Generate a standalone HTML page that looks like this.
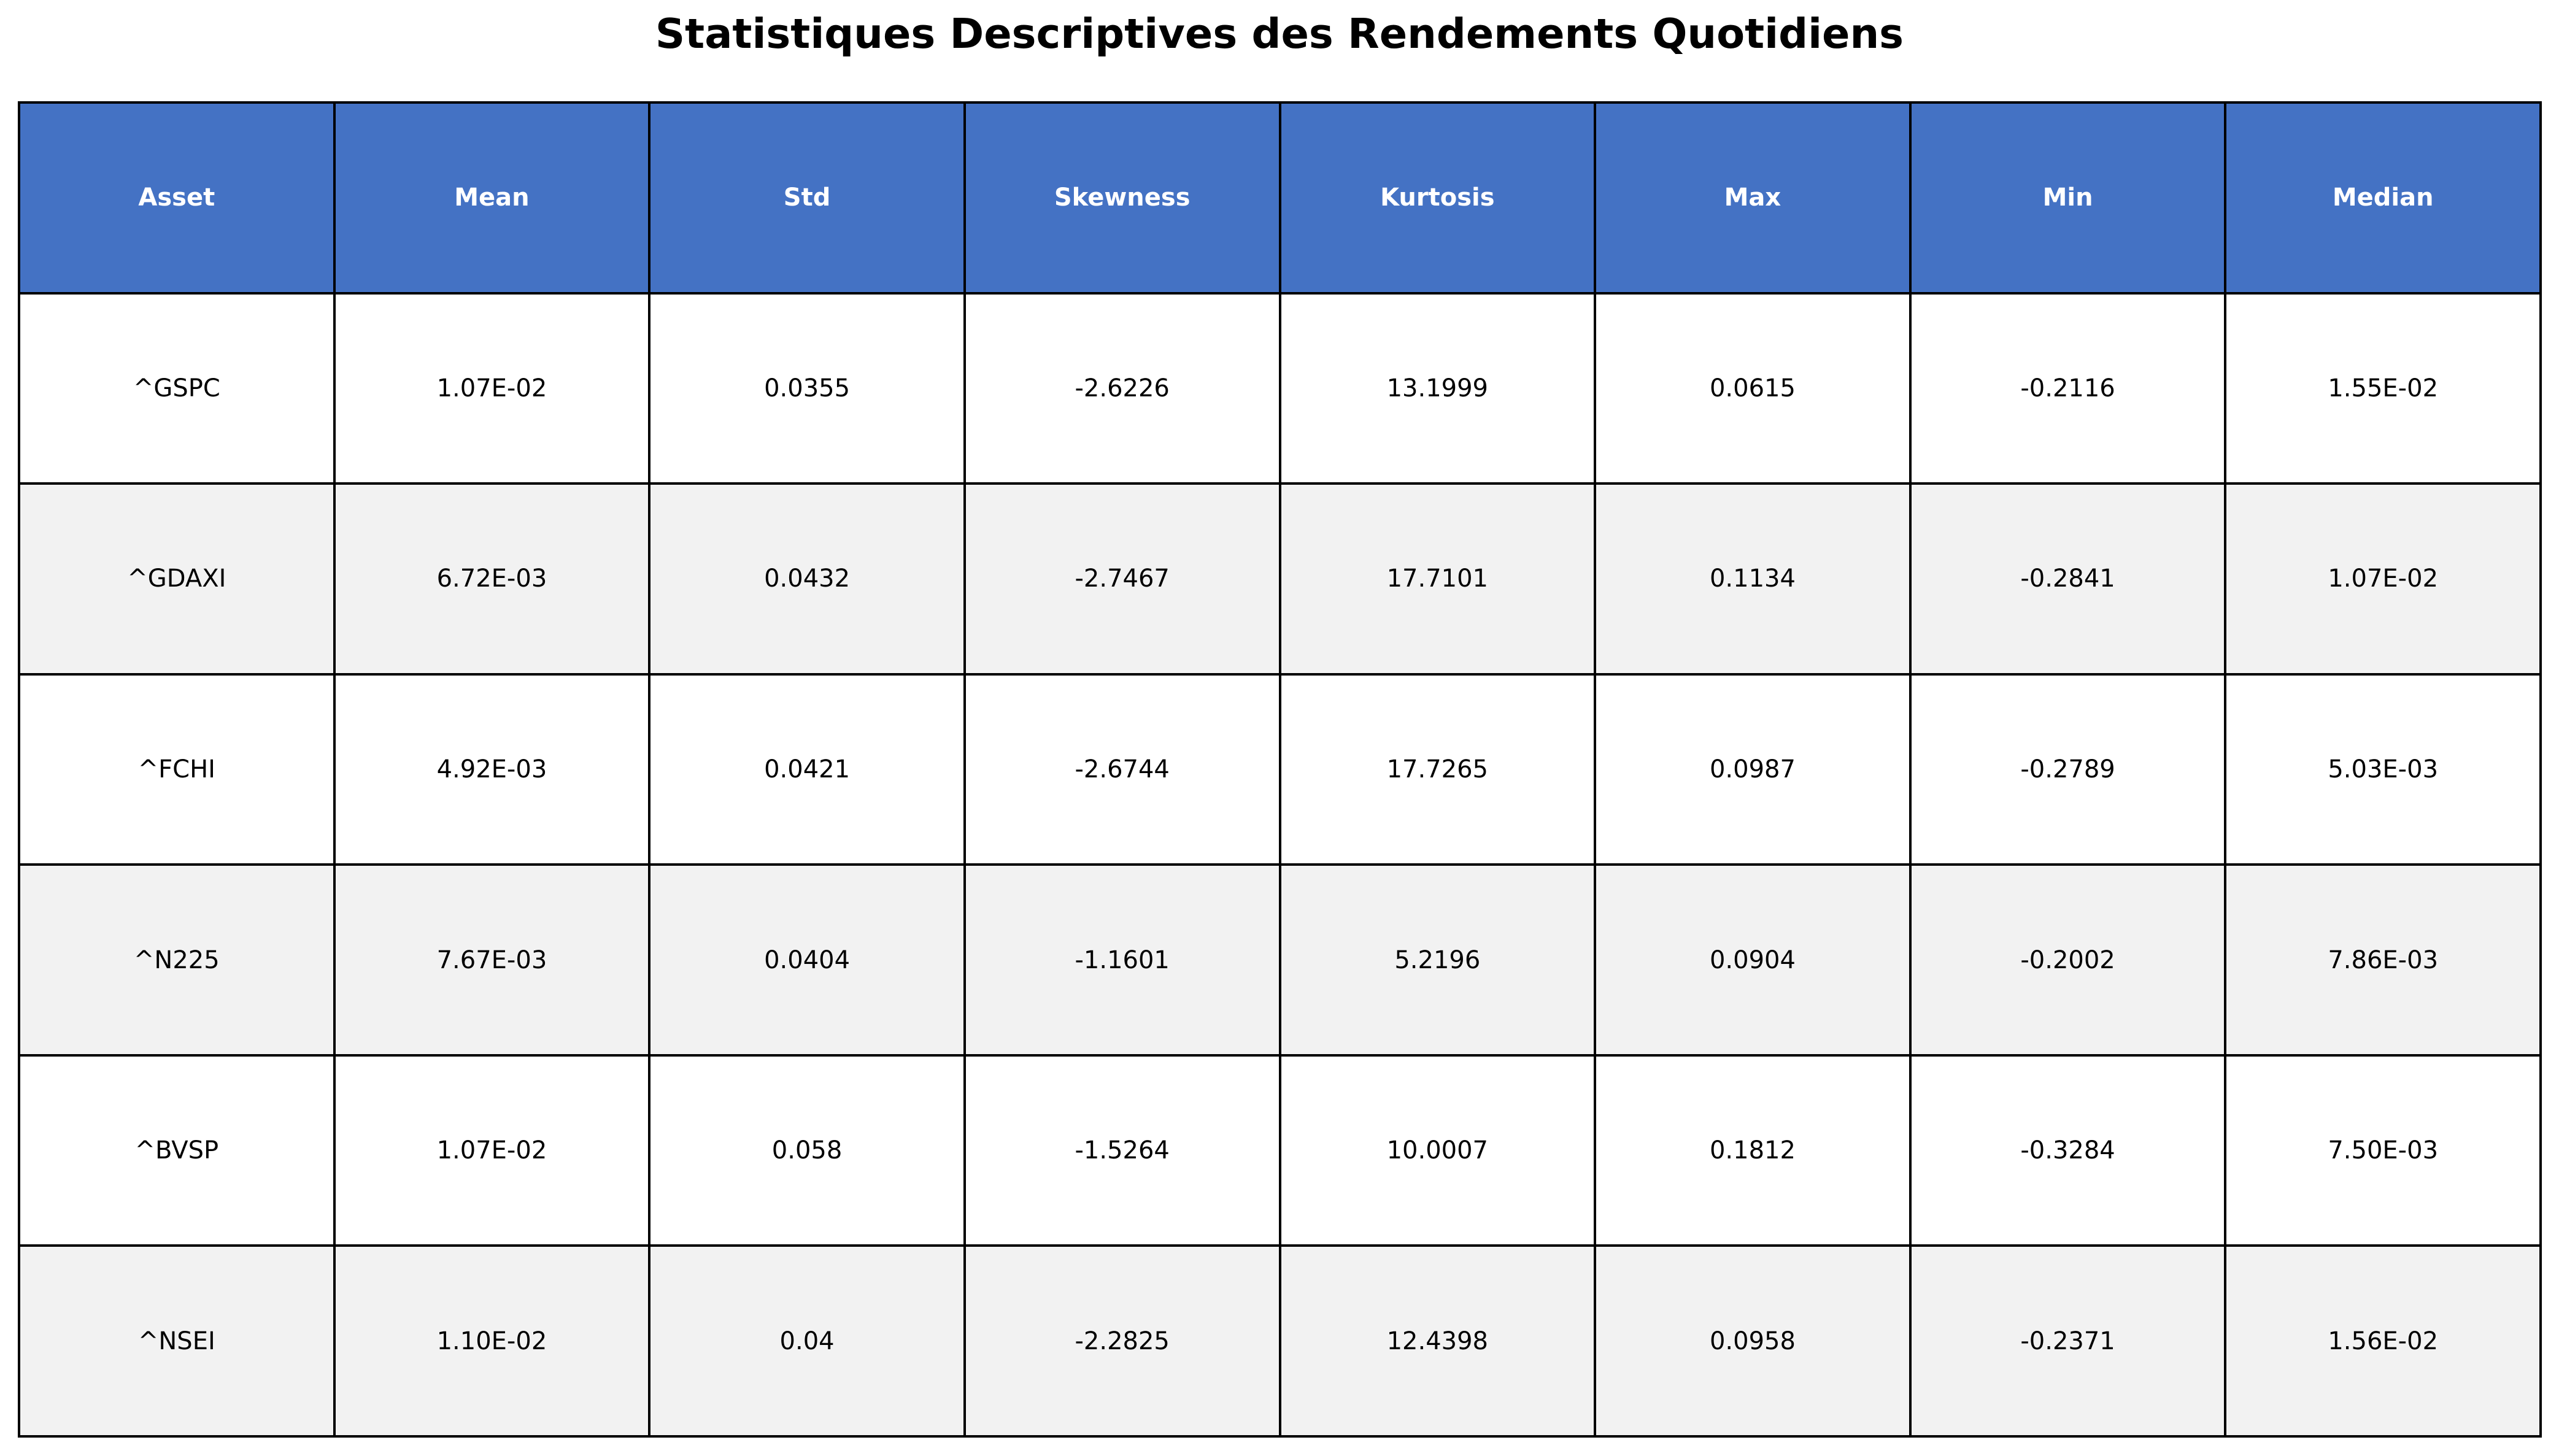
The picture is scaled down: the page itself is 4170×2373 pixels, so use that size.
<!DOCTYPE html>
<html><head><meta charset="utf-8">
<style>
html,body{margin:0;padding:0;background:#fff;}
body{width:4170px;height:2373px;position:relative;overflow:hidden;font-family:"DejaVu Sans","Liberation Sans",sans-serif;}
#title{position:absolute;left:0;top:16px;width:4170px;text-align:center;font-size:67px;font-weight:bold;color:#000;}
table{position:absolute;left:29px;top:165px;width:4113px;height:2178px;border-collapse:collapse;table-layout:fixed;}
td,th{border:4px solid #000;text-align:center;vertical-align:middle;font-size:40px;padding:0;}
th{background:#4472C4;color:#fff;font-weight:bold;}
tr.alt td{background:#f2f2f2;}
</style></head>
<body>
<div id="title">Statistiques Descriptives des Rendements Quotidiens</div>
<table id="tbl"></table>
<script>
const headers=["Asset","Mean","Std","Skewness","Kurtosis","Max","Min","Median"];
const assets=["^GSPC","^GDAXI","^FCHI","^N225","^BVSP","^NSEI"];
const means=["1.07E-02","6.72E-03","4.92E-03","7.67E-03","1.07E-02","1.10E-02"];
const stds=["0.0355","0.0432","0.0421","0.0404","0.058","0.04"];
const skews=["-2.6226","-2.7467","-2.6744","-1.1601","-1.5264","-2.2825"];
const kurts=["13.1999","17.7101","17.7265","5.2196","10.0007","12.4398"];
const maxs=["0.0615","0.1134","0.0987","0.0904","0.1812","0.0958"];
const mins=["-0.2116","-0.2841","-0.2789","-0.2002","-0.3284","-0.2371"];
const medians=["1.55E-02","1.07E-02","5.03E-03","7.86E-03","7.50E-03","1.56E-02"];
const tbl=document.getElementById('tbl');
const hr=document.createElement('tr');


headers.forEach(h=>{const th=document.createElement('th');th.textContent=h;


hr.appendChild(th);});
tbl.appendChild(hr);
assets.forEach((a,i)=>{
 const tr=document.createElement('tr');
 if(i%2===1)tr.className='alt';
 
 
 [a,means[i],stds[i],skews[i],kurts[i],maxs[i],mins[i],medians[i]].forEach((v,j)=>{
  const td=document.createElement('td');td.textContent=v;
  
  
  tr.appendChild(td);});
 tbl.appendChild(tr);
});
</script>
</body></html>
